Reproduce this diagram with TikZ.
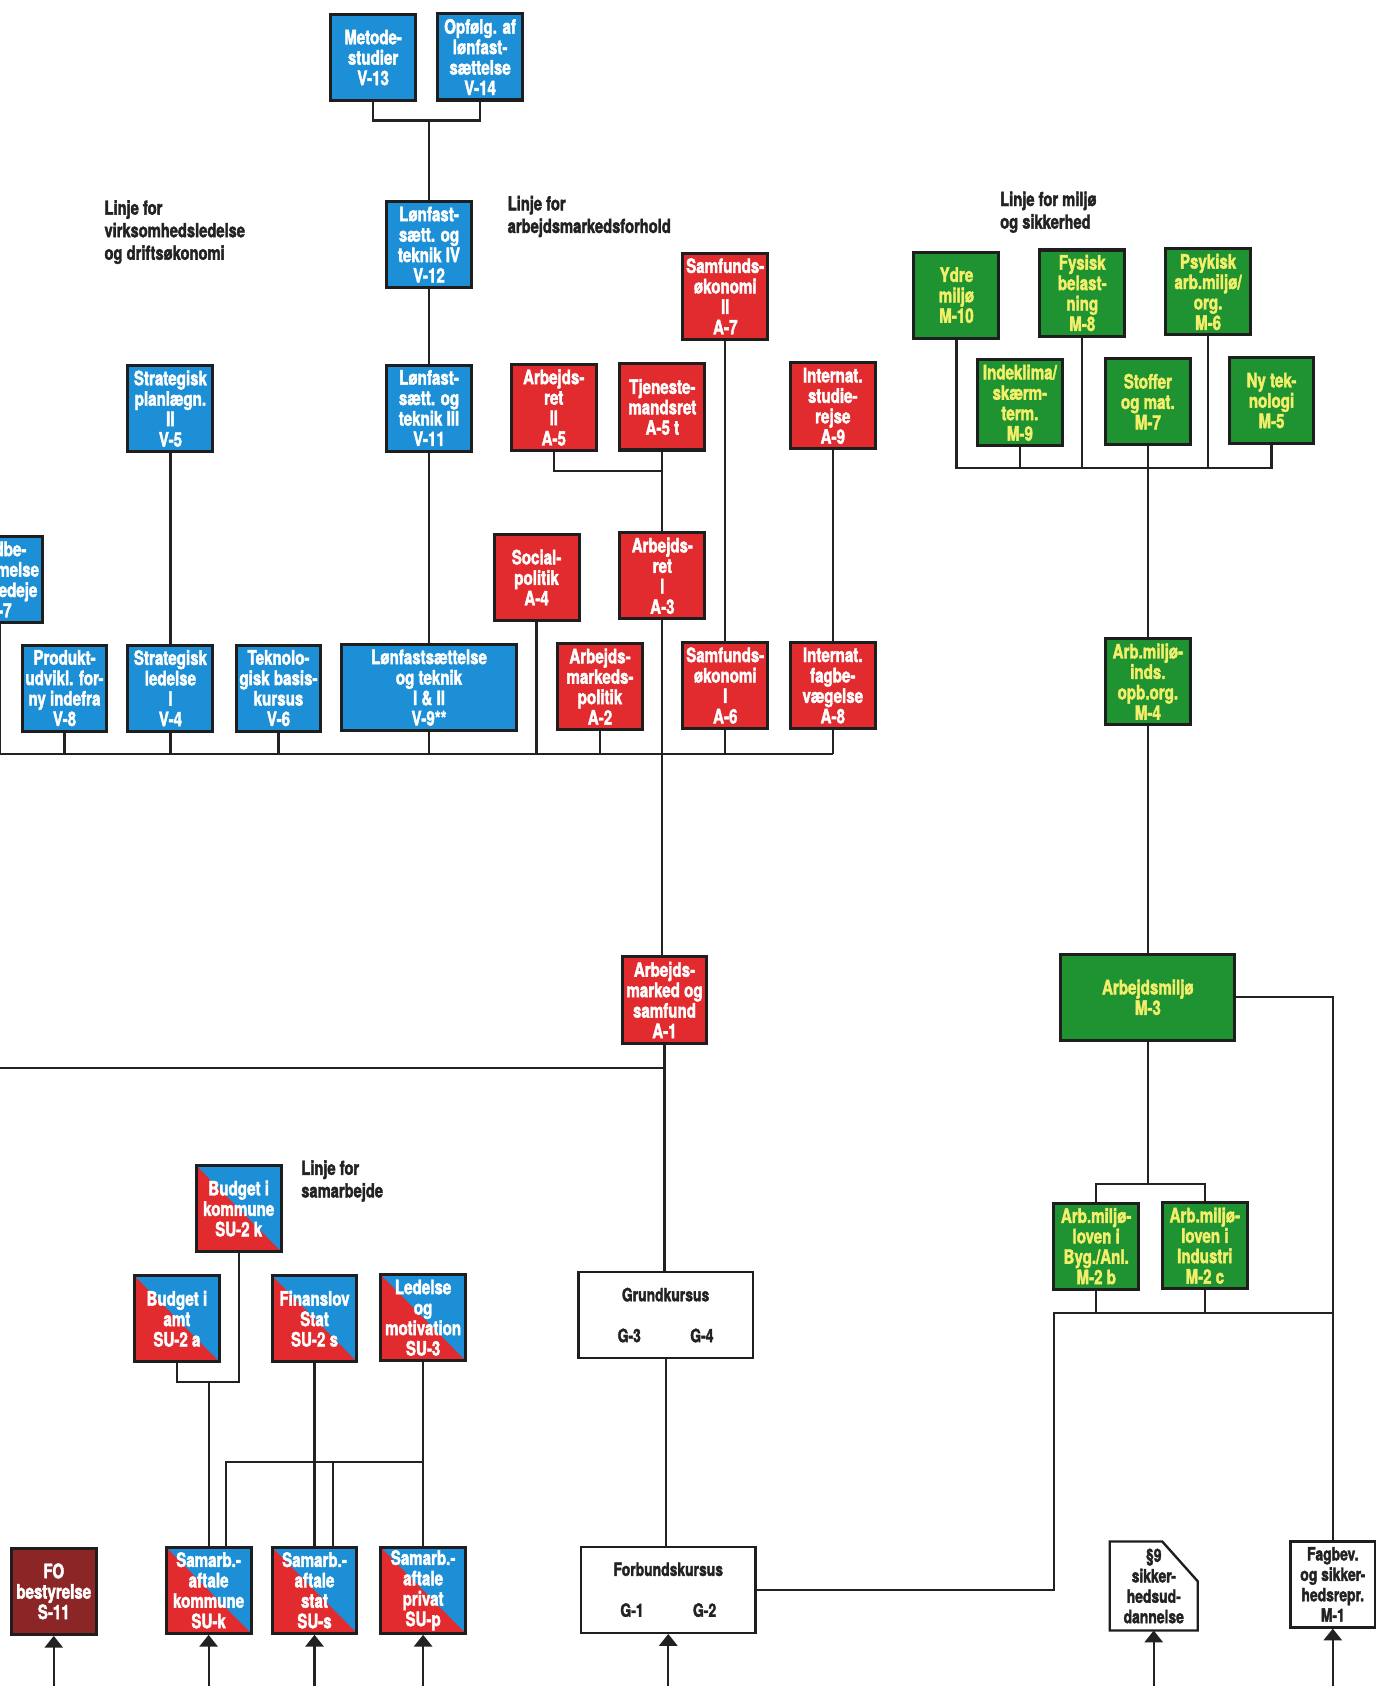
\documentclass[tikz,border=0pt]{standalone}
\usepackage{fontspec}
\usetikzlibrary{arrows.meta,calc}
\newfontfamily\cf{TeX Gyre Heros}[FakeStretch=0.76, BoldFeatures={FakeBold=2}]
\definecolor{vblue}{HTML}{1C8FD6}
\definecolor{ared}{HTML}{E12B2E}
\definecolor{mgreen}{HTML}{1F9232}
\definecolor{myel}{HTML}{F3EF6A}
\definecolor{edge}{HTML}{1E1E1E}
\definecolor{ink}{HTML}{222222}
\definecolor{fored}{HTML}{8C2626}
\begin{document}
\begin{tikzpicture}[x=1pt,y=-1pt,
  box/.style={draw=edge, line width=2.8pt, minimum width=79pt, minimum height=80pt,
    inner sep=0pt, align=center, font=\cf\bfseries\fontsize{18.5}{19}\selectfont, text=white},
  wide/.style={minimum width=162pt},
  vbox/.style={box, fill=vblue},
  abox/.style={box, fill=ared},
  mbox/.style={box, fill=mgreen, text=myel},
  fbox/.style={box, fill=fored},
  wbox/.style={box, fill=white, text=ink, line width=2.2pt, font=\cf\bfseries\fontsize{17}{19}\selectfont},
  sbox/.style={box, fill=vblue, path picture={\fill[ared] (path picture bounding box.north west) -- (path picture bounding box.south east) -- (path picture bounding box.south west) -- cycle;}},
  conn/.style={draw=ink, line width=2pt},
  uparr/.style={conn, -{Triangle[width=17pt,length=11pt]}},
  lbl/.style={anchor=north west, align=left, inner sep=0pt, text=ink, font=\cf\bfseries\fontsize{18}{21}\selectfont}
]
\fill[white] (0,0) rectangle (1280,1568);
\useasboundingbox (0,0) rectangle (1280,1568);

% ---------- labels
\node[lbl] (l1) at (97,186) {Linje for\\virksomhedsledelse\\og driftsøkonomi};
\node[lbl] (l2) at (472,182) {Linje for\\arbejdsmarkedsforhold};
\node[lbl] (l3) at (930,178) {Linje for miljø\\og sikkerhed};
\node[lbl] (l4) at (280,1079) {Linje for\\samarbejde};

% ---------- V line
\node[vbox] (v13) at (347,53.5) {Metode-\\studier\\V-13};
\node[vbox] (v14) at (446.5,53) {Opfølg. af\\lønfast-\\sættelse\\V-14};
\node[vbox] (v12) at (399,227.5) {Lønfast-\\sætt. og\\teknik IV\\V-12};
\node[vbox] (v11) at (399,379.5) {Lønfast-\\sætt. og\\teknik III\\V-11};
\node[vbox] (v5) at (158.5,380) {Strategisk\\planlægn.\\II\\V-5};
\node[vbox] (v7) at (0,539) {Medbe-\\stemmelse\\og medeje\\V-7};
\node[vbox] (v8) at (60,640) {Produkt-\\udvikl. for-\\ny indefra\\V-8};
\node[vbox] (v4) at (158.5,640) {Strategisk\\ledelse\\I\\V-4};
\node[vbox] (v6) at (259,640) {Teknolo-\\gisk basis-\\kursus\\V-6};
\node[vbox,wide] (v9) at (399,639.5) {Lønfastsættelse\\og teknik\\I \& II\\V-9**};

% ---------- A line
\node[abox] (a7) at (674.5,275.5) {Samfunds-\\økonomi\\II\\A-7};
\node[abox] (a5) at (515,379) {Arbejds-\\ret\\II\\A-5};
\node[abox] (a5t) at (616,378.5) {Tjeneste-\\mandsret\\A-5 t};
\node[abox] (a9) at (774.5,377.5) {Internat.\\studie-\\rejse\\A-9};
\node[abox] (a4) at (499,537) {Social-\\politik\\A-4};
\node[abox] (a3) at (616,535.5) {Arbejds-\\ret\\I\\A-3};
\node[abox] (a2) at (558,638.5) {Arbejds-\\markeds-\\politik\\A-2};
\node[abox] (a6) at (674.5,637.5) {Samfunds-\\økonomi\\I\\A-6};
\node[abox] (a8) at (774.5,637.5) {Internat.\\fagbe-\\vægelse\\A-8};
\node[abox] (a1) at (618,930) {Arbejds-\\marked og\\samfund\\A-1};

% ---------- M line
\node[mbox] (m10) at (889.5,274.5) {Ydre\\miljø\\M-10};
\node[mbox] (m8) at (1006.5,272.5) {Fysisk\\belast-\\ning\\M-8};
\node[mbox] (m6) at (1123.5,271.5) {Psykisk\\arb.miljø/\\org.\\M-6};
\node[mbox] (m9) at (948.5,374.5) {Indeklima/\\skærm-\\term.\\M-9};
\node[mbox] (m7) at (1067.5,373.5) {Stoffer\\og mat.\\M-7};
\node[mbox] (m5) at (1182.5,372.5) {Ny tek-\\nologi\\M-5};
\node[mbox] (m4) at (1067.5,634) {Arb.miljø-\\inds.\\opb.org.\\M-4};
\node[mbox,wide] (m3) at (1067.5,927.5) {Arbejdsmiljø\\M-3};
\node[mbox] (m2b) at (1019.5,1159) {Arb.miljø-\\loven i\\Byg./Anl.\\M-2 b};
\node[mbox] (m2c) at (1120.5,1158.5) {Arb.miljø-\\loven i\\Industri\\M-2 c};

% ---------- G boxes
\node[wbox,wide] (g34) at (619,1223) {Grundkursus\\[19pt]G-3\hspace{46pt}G-4};
\node[wbox,wide] (g12) at (621.5,1478.5) {Forbundskursus\\[19pt]G-1\hspace{46pt}G-2};

% ---------- white boxes on the right
\node[box, draw=none, text=ink, font=\cf\bfseries\fontsize{17}{19}\selectfont] (s9) at (1073,1475) {};
\draw[edge, line width=2.2pt, fill=white] (s9.north west) -- ([xshift=-33pt]s9.north east) -- ([yshift=-37pt]s9.north east) -- (s9.south east) -- (s9.south west) -- cycle;
\node[text=ink, align=center, inner sep=0pt, font=\cf\bfseries\fontsize{17}{19}\selectfont] (s9t) at (s9) {§9\\sikker-\\hedsud-\\dannelse};
\node[wbox] (m1) at (1239.5,1473.5) {Fagbev.\\og sikker-\\hedsrepr.\\M-1};

% ---------- SU line
\node[sbox] (su2k) at (222,1124) {Budget i\\kommune\\SU-2 k};
\node[sbox] (su2a) at (164.5,1226.5) {Budget i\\amt\\SU-2 a};
\node[sbox] (su2s) at (292.5,1226.5) {Finanslov\\Stat\\SU-2 s};
\node[sbox] (su3) at (393.5,1225.5) {Ledelse\\og\\motivation\\SU-3};
\node[sbox] (suk) at (194,1479) {Samarb.-\\aftale\\kommune\\SU-k};
\node[sbox] (sus) at (292.5,1479) {Samarb.-\\aftale\\stat\\SU-s};
\node[sbox] (sup) at (393.5,1479) {Samarb.-\\aftale\\privat\\SU-p};
\node[fbox] (s11) at (50,1480) {FO\\bestyrelse\\S-11};

% ---------- connectors: V
\coordinate (j1) at (399,112);
\draw[conn] (v13.south) |- (v14.south |- j1) -- (v14.south);
\draw[conn] (j1) -- (v12.north);
\draw[conn] (v12.south) -- (v11.north);
\draw[conn] (v11.south) -- (v9.north);
\draw[conn] (v5.south) -- (v4.north);

% main bus
\coordinate (busL) at (0,701);
\draw[conn] (busL) -- (busL -| a8.south);
\foreach \n in {v7,v8,v4,v6,v9,a4,a2,a6,a8}
  \draw[conn] (\n.south) -- (\n.south |- busL);

% A connectors
\coordinate (j2) at (0,438);
\draw[conn] (a5.south) |- (a5t.south |- j2);
\draw[conn] (a5t.south) -- (a3.north);
\draw[conn] (a7.south) -- (a6.north);
\draw[conn] (a9.south) -- (a8.north);
\draw[conn] (a3.south) -- (a3.south |- a1.north);
\coordinate (aL) at (0,993);
\draw[conn] (aL) -- (aL -| a1.south);
\draw[conn] (a1.south) -- (a1.south |- g34.north);
\draw[conn] (g34.south) -- (g34.south |- g12.north);

% M connectors
\coordinate (gb) at (0,435);
\draw[conn] (m10.south) |- (m5.south |- gb) -- (m5.south);
\foreach \n in {m9,m8,m6}
  \draw[conn] (\n.south) -- (\n.south |- gb);
\draw[conn] (m7.south) -- (m4.north);
\draw[conn] (m4.south) -- (m3.north);
\coordinate (mb) at (0,1101);
\draw[conn] (m3.south) -- (m3.south |- mb);
\draw[conn] (m2b.north) |- (m2c.north |- mb) -- (m2c.north);
\draw[conn] (m3.east) -| (m1.north);
\coordinate (k1) at (980,1221);
\draw[conn] (m2b.south) -- (m2b.south |- k1);
\draw[conn] (m2c.south) -- (m2c.south |- k1);
\draw[conn] (g12.east) -| (k1) -- (k1 -| m1.north);

% SU connectors
\coordinate (sj) at (0,1285);
\draw[conn] (su2a.south) |- (su2k.south |- sj) -- (su2k.south);
\draw[conn] (suk.north) -- (suk.north |- sj);
\coordinate (h1) at (210,1360);
\coordinate (h2) at (310,1360);
\draw[conn] (h1 |- suk.north) -- (h1) -- (h1 -| su3.south);
\draw[conn] (h2) -- (h2 |- sus.north);
\draw[conn] (su2s.south) -- (sus.north);
\draw[conn] (su3.south) -- (sup.north);

% arrows from below
\coordinate (bot) at (0,1570);
\foreach \n in {s11,suk,sus,sup,g12,s9,m1}
  \draw[uparr] (\n.south |- bot) -- (\n.south);
\end{tikzpicture}
\end{document}
